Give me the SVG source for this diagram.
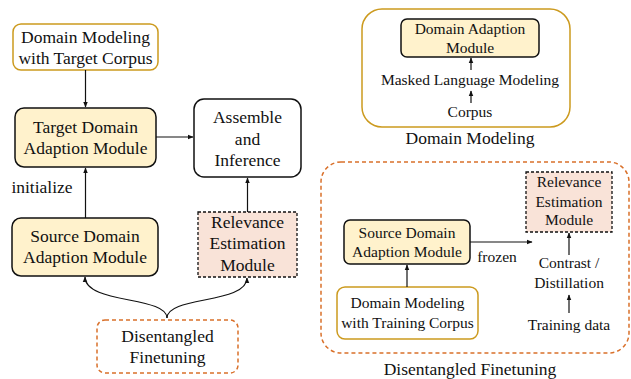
<svg xmlns="http://www.w3.org/2000/svg" width="631" height="379" viewBox="0 0 631 379">
<style>
text{font-family:'Liberation Serif',Tinos,'Times New Roman','DejaVu Serif',serif;fill:#111;text-anchor:middle}
.l{font-size:17.5px}
.s{font-size:15.5px}
.gold{fill:#fff;stroke:#CC9A1E;stroke-width:1.5}
.yel{fill:#FFF2CC;stroke:#111;stroke-width:1.5}
.wht{fill:#fff;stroke:#111;stroke-width:1.5}
.sal{fill:#F9E3D8;stroke:#111;stroke-width:1.3;stroke-dasharray:3 2}
.org{fill:#fff;stroke:#D9702A;stroke-width:1.5;stroke-dasharray:4 3}
.c{fill:none;stroke:#111;stroke-width:1.2}
</style>
<defs>
<marker id="a" viewBox="0 0 10 10" refX="9" refY="5" markerWidth="6" markerHeight="6" orient="auto-start-reverse" markerUnits="userSpaceOnUse"><path d="M0,1 L10,5 L0,9 z" fill="#111"/></marker>
</defs>
<g font-family="Liberation Serif, serif">
<g id="panel-dm"><rect x="362" y="9" width="208" height="118" rx="20" class="gold"/><text class="l" x="470" y="144">Domain Modeling</text></g>
<g id="panel-df"><rect x="321" y="162" width="308" height="191" rx="20" class="org"/><text class="l" x="470" y="375">Disentangled Finetuning</text></g>
<g id="dm-target"><rect x="13" y="24" width="145" height="46" rx="8" class="gold"/><text class="l" x="85.5" y="43">Domain Modeling</text><text class="l" x="85.5" y="64">with Target Corpus</text></g>
<g id="target-dam"><rect x="15" y="108" width="141" height="59" rx="9" class="yel"/><text class="l" x="85.5" y="133">Target Domain</text><text class="l" x="85.5" y="154">Adaption Module</text></g>
<g id="assemble"><rect x="194" y="99" width="107" height="78" rx="10" class="wht"/><text class="l" x="247.5" y="123">Assemble</text><text class="l" x="247.5" y="145">and</text><text class="l" x="247.5" y="166">Inference</text></g>
<g id="source-dam"><rect x="12" y="218" width="146" height="58" rx="9" class="yel"/><text class="l" x="85" y="242">Source Domain</text><text class="l" x="85" y="263">Adaption Module</text></g>
<g id="rem"><rect x="198" y="212" width="99" height="65" class="sal"/><text class="l" x="247.5" y="228">Relevance</text><text class="l" x="247.5" y="249">Estimation</text><text class="l" x="247.5" y="271">Module</text></g>
<g id="dft"><rect x="97" y="320" width="141" height="53" rx="8" class="org"/><text class="l" x="167.5" y="342">Disentangled</text><text class="l" x="167.5" y="363">Finetuning</text></g>
<text class="l" x="42" y="193">initialize</text>
<g id="dam"><rect x="401" y="19" width="138" height="38" rx="6" class="yel"/><text class="s" x="470" y="34">Domain Adaption</text><text class="s" x="470" y="53">Module</text></g>
<text class="s" x="470" y="85">Masked Language Modeling</text>
<text class="s" x="470" y="117">Corpus</text>
<g id="src2"><rect x="344" y="220" width="126" height="44" rx="6" class="yel"/><text class="s" x="407" y="238">Source Domain</text><text class="s" x="407" y="257">Adaption Module</text></g>
<g id="dm-train"><rect x="337" y="287" width="141" height="52" rx="8" class="gold"/><text class="s" x="407.5" y="308">Domain Modeling</text><text class="s" x="407.5" y="328">with Training Corpus</text></g>
<g id="rem2"><rect x="526" y="172" width="86" height="60" class="sal"/><text class="s" x="569" y="187">Relevance</text><text class="s" x="569" y="207">Estimation</text><text class="s" x="569" y="225">Module</text></g>
<text class="s" x="497" y="262">frozen</text>
<text class="s" x="569" y="268">Contrast /</text>
<text class="s" x="569" y="288">Distillation</text>
<text class="s" x="569" y="330">Training data</text>
</g>
<g id="connectors">
<path class="c" d="M85.5,70 V107" marker-end="url(#a)"/>
<path class="c" d="M156,137 H193" marker-end="url(#a)"/>
<path class="c" d="M85.5,218 V168" marker-end="url(#a)"/>
<path class="c" d="M247.5,212 V178" marker-end="url(#a)"/>
<path class="c" d="M167,318 C167,296 85,304 85,277" marker-end="url(#a)"/>
<path class="c" d="M167,318 C167,296 247,304 247,278" marker-end="url(#a)"/>
<path class="c" d="M471,70 V58" marker-end="url(#a)"/>
<path class="c" d="M471,103 V91" marker-end="url(#a)"/>
<path class="c" d="M470,242 H532" marker-end="url(#a)"/>
<path class="c" d="M407,287 V265" marker-end="url(#a)"/>
<path class="c" d="M569,255 V233" marker-end="url(#a)"/>
<path class="c" d="M569,313 V295" marker-end="url(#a)"/>
</g>
</svg>
